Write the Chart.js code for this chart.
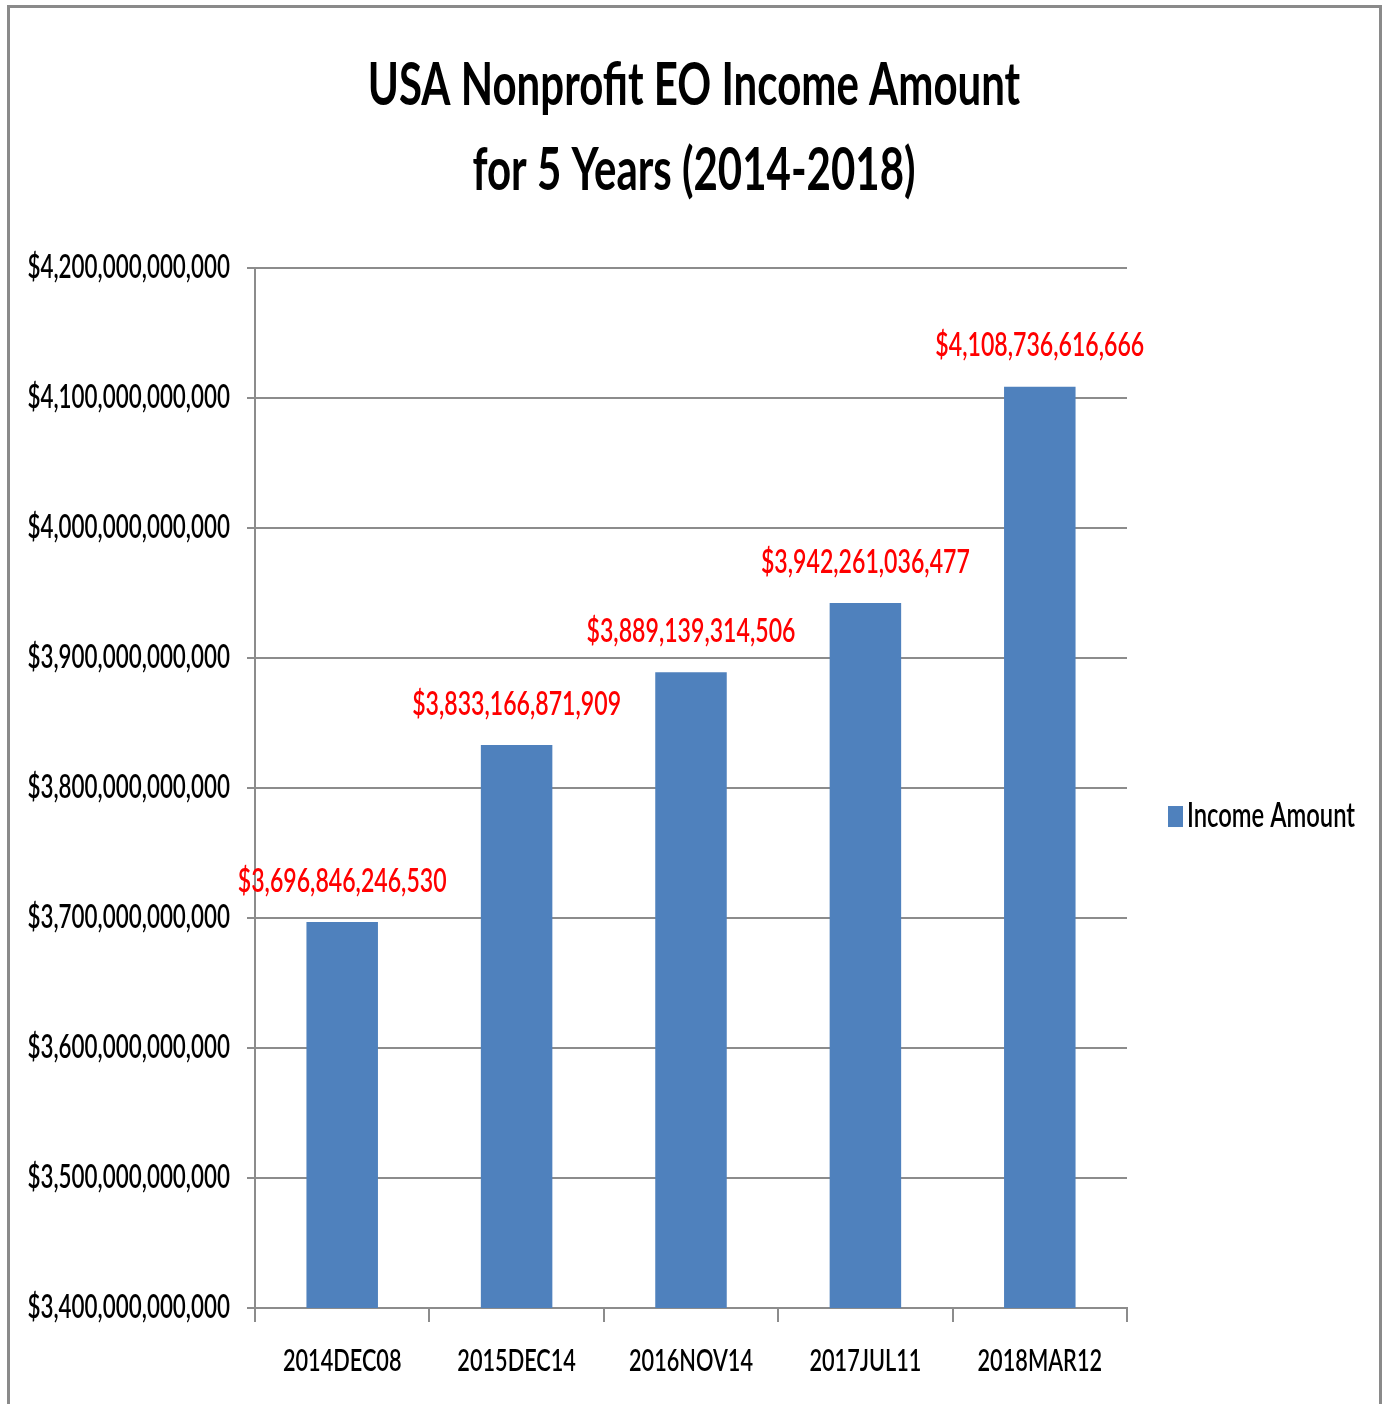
<!DOCTYPE html>
<html>
<head>
<meta charset="utf-8">
<title>USA Nonprofit EO Income Amount</title>
<script src="https://cdn.jsdelivr.net/npm/chart.js@4.4.1/dist/chart.umd.min.js"></script>
<style>
  html, body { margin: 0; padding: 0; background: #fff; overflow: hidden; }
  #wrap { position: relative; width: 1388px; height: 1404px; }
  #frame {
    position: absolute; left: 7px; top: 5px; width: 1375px; height: 1420px;
    border: 3px solid #8a8a8a; box-sizing: border-box; pointer-events: none;
  }
  canvas { position: absolute; left: 0; top: 0; }
</style>
</head>
<body>
<div id="wrap">
  <canvas id="chart" width="1388" height="1404"></canvas>
  <div id="frame"></div>
</div>
<script>
// ── Data ────────────────────────────────────────────────

const categories = ["2014DEC08", "2015DEC14", "2016NOV14", "2017JUL11", "2018MAR12"];
const incomeAmount = [3696846246530, 3833166871909, 3889139314506, 3942261036477, 4108736616666];
const seriesLabel = "Income Amount";
const titleLines = ["USA Nonprofit EO Income Amount", "for 5 Years (2014-2018)"];
const yMin = 3400000000000;
const yMax = 4200000000000;
const yStep = 100000000000;

// ── Style ───────────────────────────────────────────────

const FONT = "Lato, 'Open Sans', sans-serif";
const TEXT_SQUEEZE = 0.7; // the original uses tall, narrow lettering
const BAR_COLOR = "#4f81bd";
const GRID_COLOR = "#8c8c8c";
const LABEL_RED = "#ff0000";

const money = (v) => "$" + Math.round(v).toLocaleString("en-US");

// squeeze every piece of text horizontally around its anchor point
const narrowText = {
  id: "narrowText",
  beforeInit(chart) {
    const ctx = chart.ctx;
    const fill = ctx.fillText;
    ctx.fillText = function (text, x, y) {
      this.save();
      this.translate(x, y);
      this.scale(TEXT_SQUEEZE, 1);
      fill.call(this, text, 0, 0);
      this.restore();
    };
  },
};

// value labels over each bar
const barValueLabels = {
  id: "barValueLabels",
  afterDatasetsDraw(chart) {
    const ctx = chart.ctx;
    const meta = chart.getDatasetMeta(0);
    ctx.save();
    ctx.font = "600 33px " + FONT;
    ctx.fillStyle = LABEL_RED;
    ctx.textAlign = "center";
    ctx.textBaseline = "middle";
    meta.data.forEach((bar, i) => {
      ctx.fillText(money(chart.data.datasets[0].data[i]), bar.x, bar.y - 41);
    });
    ctx.restore();
  },
};

// single-entry legend to the right of the plot
const sideLegend = {
  id: "sideLegend",
  afterDraw(chart) {
    const ctx = chart.ctx;
    const ds = chart.data.datasets[0];
    const x = chart.chartArea.right + 41;
    const y = (chart.chartArea.top + chart.chartArea.bottom) / 2 + 28;
    ctx.save();
    ctx.fillStyle = ds.backgroundColor;
    ctx.fillRect(x, y - 10, 15, 21);
    ctx.font = "600 34px " + FONT;
    ctx.fillStyle = "#000";
    ctx.textAlign = "left";
    ctx.textBaseline = "middle";
    ctx.fillText(ds.label, x + 19, y);
    ctx.restore();
  },
};

new Chart(document.getElementById("chart"), {
  type: "bar",
  data: {
    labels: categories,
    datasets: [{
      label: seriesLabel,
      data: incomeAmount,
      backgroundColor: BAR_COLOR,
      borderWidth: 0,
      categoryPercentage: 1,
      barPercentage: 0.41,
    }],
  },
  options: {
    responsive: false,
    animation: false,
    devicePixelRatio: 1,
    layout: { padding: 0 },
    plugins: {
      legend: { display: false },
      tooltip: { enabled: false },
      title: {
        display: true,
        text: titleLines,
        color: "#000",
        font: { family: FONT, size: 60, weight: "bold", lineHeight: 1.417 },
        padding: { top: 43, bottom: 55 },
      },
    },
    scales: {
      x: {
        grid: {
          offset: true,
          drawOnChartArea: false,
          color: GRID_COLOR,
          lineWidth: 2,
          tickLength: 14,
        },
        border: { color: GRID_COLOR, width: 2 },
        ticks: {
          color: "#000",
          font: { family: FONT, size: 31, weight: 600 },
          padding: 20,
          maxRotation: 0,
          autoSkip: false,
        },
        afterFit: (s) => { s.height = 96; },
      },
      y: {
        min: yMin,
        max: yMax,
        grid: { color: GRID_COLOR, lineWidth: 2, tickLength: 8 },
        border: { color: GRID_COLOR, width: 2 },
        ticks: {
          stepSize: yStep,
          color: "#000",
          font: { family: FONT, size: 32, weight: 600 },
          padding: 17,
          callback: (v) => money(v),
        },
        afterFit: (s) => { s.width = 255; },
      },
      // empty axis reserving room for the side legend
      yRight: {
        position: "right",
        display: true,
        grid: { display: false },
        border: { display: false },
        ticks: { display: false },
        afterFit: (s) => { s.width = 261; },
      },
    },
  },
  plugins: [narrowText, barValueLabels, sideLegend],
});
</script>
</body>
</html>
